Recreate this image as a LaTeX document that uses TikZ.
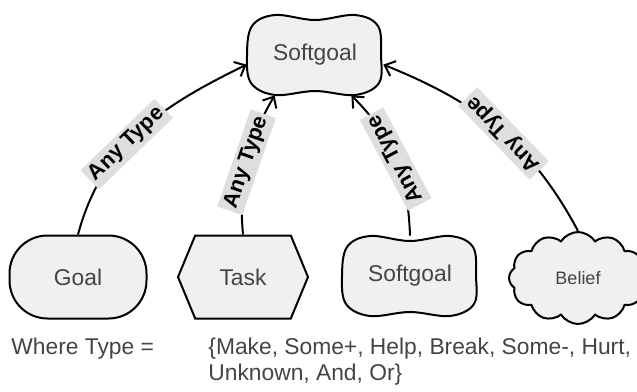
\documentclass[tikz,border=0pt]{standalone}
\usepackage{fontspec}
\setmainfont{Liberation Sans}
\usetikzlibrary{arrows.meta,positioning,shapes.symbols}
\definecolor{nodefill}{RGB}{240,240,240}
\definecolor{labelfill}{RGB}{222,222,222}
\definecolor{nodetext}{RGB}{68,68,68}

\begin{document}
\begin{tikzpicture}[x=0.5pt, y=-0.5pt, >={Straight Barb[length=4.5pt,width=8pt]},
    every node/.style={font=\fontsize{11.4}{13.5}\selectfont, text=nodetext},
    element/.style={fill=nodefill, draw=black, line width=1pt},
    goalbox/.style={element, rounded corners=19pt, minimum width=68.5pt, minimum height=41.5pt},
    taskbox/.style={element, signal, signal to=east and west, signal pointer angle=135,
      minimum width=65pt, minimum height=41.5pt},
    softbox/.style={minimum width=68pt, minimum height=40pt, inner sep=0pt},
    beliefbox/.style={element, cloud, cloud puffs=12, cloud puff arc=115, aspect=1.5,
      minimum width=69pt, minimum height=46pt, font=\fontsize{9}{11}\selectfont},
    anytype/.style={fill=labelfill, text=black, font=\bfseries\fontsize{10.8}{12}\selectfont,
      inner sep=1.8pt},
    contrib/.style={->, line width=1pt},
    legend/.style={anchor=base west, inner sep=0pt},
    pics/softblob/.style={code={
      \draw[element] plot[smooth cycle, tension=0.6] coordinates {
        (-40,-40) (0,-35) (40,-40) (63,-29) (66,0) (64,28) (40,40) (0,36)
        (-40,40) (-64,28) (-68,0) (-63,-29)};}}
  ]
  \useasboundingbox (0,0) rectangle (637,391);
  \clip (0,0) rectangle (637,391);

  % softgoal on top
  \pic at (315,55) {softblob};
  \node[softbox] (softTop) at (315,55) {Softgoal};

  % the four elements below
  \node[goalbox] (goal) at (78,277) {Goal};
  \node[taskbox] (task) at (243,277) {Task};
  \pic at (410,276) {softblob};
  \node[softbox] (softLow) at (410,276) {Softgoal};
  \node[beliefbox] (belief) at (578,278) {Belief};

  % contributions
  \draw[contrib] (goal.north) to[out=75, in=206]
    node[anytype, pos=0.42, rotate=44] {Any Type} (softTop.188);
  \draw[contrib] (task.north) to[out=95, in=240]
    node[anytype, pos=0.5, rotate=71] {Any Type} (softTop.225);
  \draw[contrib] (softLow.north) to[out=92, in=-45]
    node[anytype, pos=0.5, rotate=118] {Any Type} (softTop.-48);
  \draw[contrib] (belief.north) to[out=118, in=-22]
    node[anytype, pos=0.47, rotate=134] {Any Type} (softTop.-8);

  % legend
  \node[legend] (whereLbl) at (11,354) {Where Type =};
  \node[legend] (typeList) at (208,354) {\{Make, Some+, Help, Break, Some-, Hurt,};
  \node[legend] (typeMore) at (208,380) {Unknown, And, Or\}};
\end{tikzpicture}
\end{document}
